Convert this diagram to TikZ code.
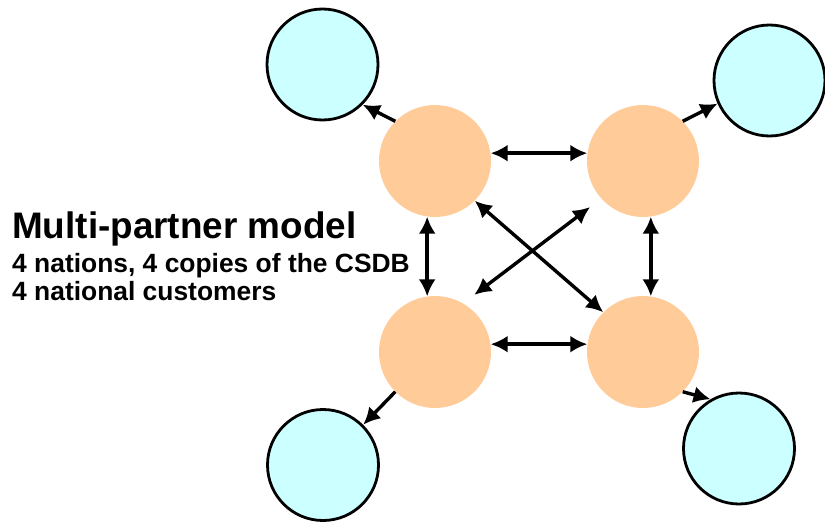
\documentclass[tikz,border=0pt]{standalone}
\usepackage{xcolor}
\usepackage{fontspec}
\setmainfont{Liberation Sans}
\usepackage{tikz}
\usetikzlibrary{arrows.meta}
\definecolor{peach}{HTML}{FFCC99}
\definecolor{ice}{HTML}{CCFFFF}
\tikzset{>={Latex[length=17pt, width=17pt]}}
\tikzstyle{nation} = [circle, fill=peach, draw=none, inner sep=0, minimum size=112pt]
\tikzstyle{customer} = [circle, fill=ice, draw=black, line width=2.8pt, inner sep=0, minimum size=111pt]
\tikzstyle{link} = [<->, line width=3.4pt]
\tikzstyle{feed} = [->, line width=3.4pt]

\begin{document}
\begin{tikzpicture}[x=1pt, y=-1pt]
\useasboundingbox (0, 0) rectangle (825, 522);
% four nations
\node [nation] (tlo) at (435, 161) {};
\node [nation] (tro) at (643, 161) {};
\node [nation] (blo) at (435, 352) {};
\node [nation] (bro) at (643, 352) {};
% national customers
\node [customer] (tlc) at (322.5, 64.5) {};
\node [customer] (trc) at (769.5, 80.5) {};
\node [customer] (blc) at (323, 465) {};
\node [customer] (brc) at (739, 448.5) {};
% text
\node [anchor=base west, inner sep=0, font=\fontsize{36.9}{40}\selectfont\bfseries] (title) at (12, 238) {Multi-partner model};
\node [anchor=base west, inner sep=0, font=\fontsize{26.4}{28}\selectfont\bfseries] (sub1) at (12, 272) {4 nations, 4 copies of the CSDB};
\node [anchor=base west, inner sep=0, font=\fontsize{26.4}{28}\selectfont\bfseries] (sub2) at (12, 300) {4 national customers};
% exchange between nations
\draw [link] (tlo.8) to (tro.172);
\draw [link] (blo.8) to (bro.172);
\draw [link] (tlo.262) to (blo.98);
\draw [link] (tro.278) to (bro.82);
\draw [link] (tlo.-45) to (bro.135);
\draw [link, shorten <=14pt, shorten >=14pt] (blo.60) to (tro.222);
% delivery to customers
\draw [feed] (tlo.135) to (tlc.-45);
\draw [feed] (tro.45) to (trc.204);
\draw [feed] (blo.225) to (blc.45);
\draw [feed] (bro.-45) to (brc.120);
\end{tikzpicture}
\end{document}
